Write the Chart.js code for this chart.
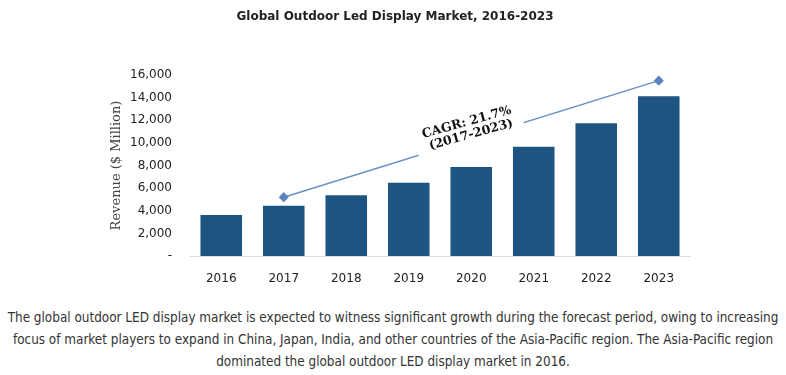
<!DOCTYPE html>
<html lang="en">
<head>
<meta charset="UTF-8">
<script src="https://cdn.jsdelivr.net/npm/chart.js"></script>
<style>
  body { margin: 0; background: #fff; }
  .chart-box { position: relative; width: 786px; height: 290px; }
  p.note {
    margin: 17px 0 0 0;
    text-align: center;
    font-family: "DejaVu Sans Condensed", "DejaVu Sans", sans-serif;
    font-size: 13.4px;
    line-height: 22px;
    color: #333;
    white-space: nowrap;
  }
</style>
</head>
<body>
<div class="chart-box"><canvas id="myChart"></canvas></div>
<p class="note">The global outdoor LED display market is expected to witness significant growth during the forecast period, owing to increasing<br>focus of market players to expand in China, Japan, India, and other countries of the Asia-Pacific region. The Asia-Pacific region<br>dominated the global outdoor LED display market in 2016.</p>

<script>
// data
const years = ['2016', '2017', '2018', '2019', '2020', '2021', '2022', '2023'];
const revenue = [3620, 4450, 5370, 6480, 7870, 9660, 11730, 14120];
// CAGR arrow, from 2017 to 2023
const cagrArrow = [null, 5200, null, null, null, null, null, 15500];
const cagrText = ['CAGR: 21.7%', '(2017-2023)'];
const yTicks = [0, 2000, 4000, 6000, 8000, 10000, 12000, 14000, 16000];

// draws the y title and the rotated CAGR note over the arrow
const notesPlugin = {
  id: 'notes',
  afterDatasetsDraw(chart) {
    const ctx = chart.ctx;
    const area = chart.chartArea;

    // y axis title
    ctx.save();
    ctx.translate(area.left - 73, (area.top + area.bottom) / 2);
    ctx.rotate(-Math.PI / 2);
    ctx.font = '13px "DejaVu Serif", serif';
    ctx.fillStyle = '#444';
    ctx.textAlign = 'center';
    ctx.textBaseline = 'middle';
    ctx.fillText('Revenue ($ Million)', 0, 0);
    ctx.restore();

    // CAGR text, placed on the arrow
    const meta = chart.getDatasetMeta(1);
    const a = meta.data[1], b = meta.data[7];
    const mx = (a.x + b.x) / 2, my = (a.y + b.y) / 2;
    const ang = Math.atan2(b.y - a.y, b.x - a.x);
    ctx.save();
    ctx.translate(mx, my);
    ctx.rotate(ang);
    ctx.fillStyle = '#fff';
    ctx.fillRect(-55, -4, 110, 8);
    ctx.restore();

    ctx.save();
    ctx.translate(mx, my);
    ctx.rotate(ang + 0.03);
    ctx.font = 'bold 12.5px "DejaVu Serif", serif';
    ctx.fillStyle = '#111';
    ctx.textAlign = 'center';
    ctx.textBaseline = 'middle';
    ctx.fillText(cagrText[0], 0, -17);
    ctx.fillText(cagrText[1], 1, -4);
    ctx.restore();
  }
};

const ctx = document.getElementById('myChart').getContext('2d');
const myChart = new Chart(ctx, {
  data: {
    labels: years,
    datasets: [{
      type: 'bar',
      data: revenue,
      backgroundColor: '#1d5482',
      categoryPercentage: 1,
      barPercentage: 0.665,
      order: 2
    }, {
      type: 'line',
      data: cagrArrow,
      spanGaps: true,
      borderColor: '#6a8fc4',
      borderWidth: 1.5,
      pointStyle: 'rectRot',
      pointRadius: 4,
      pointBackgroundColor: '#5b82bd',
      pointBorderColor: '#5b82bd',
      order: 1
    }]
  },
  options: {
    responsive: true,
    maintainAspectRatio: false,
    animation: false,
    layout: { padding: { left: 100, right: 96, top: 0, bottom: 0 } },
    scales: {
      x: {
        grid: { display: false },
        border: { display: true, color: '#d9d9d9', width: 1 },
        ticks: { color: '#222', font: { family: '"DejaVu Sans", sans-serif', size: 12 }, padding: 8 },
        afterFit: s => { s.height = 34; }
      },
      y: {
        min: 0,
        max: 16000,
        grid: { display: false, drawTicks: false },
        border: { display: false },
        afterBuildTicks: s => { s.ticks = yTicks.map(v => ({ value: v })); },
        ticks: {
          color: '#222',
          font: { family: '"DejaVu Sans", sans-serif', size: 12 },
          padding: 18,
          callback: v => v === 0 ? '-' : v.toLocaleString('en-US')
        },
        afterFit: s => { s.width = 90; }
      }
    },
    plugins: {
      legend: { display: false },
      tooltip: { enabled: false },
      title: {
        display: true,
        text: 'Global Outdoor Led Display Market, 2016-2023',
        color: '#222',
        font: { family: '"DejaVu Sans", sans-serif', size: 12, weight: 'bold' },
        padding: { top: 10, bottom: 50.6 }
      }
    }
  },
  plugins: [notesPlugin]
});
</script>
</body>
</html>
